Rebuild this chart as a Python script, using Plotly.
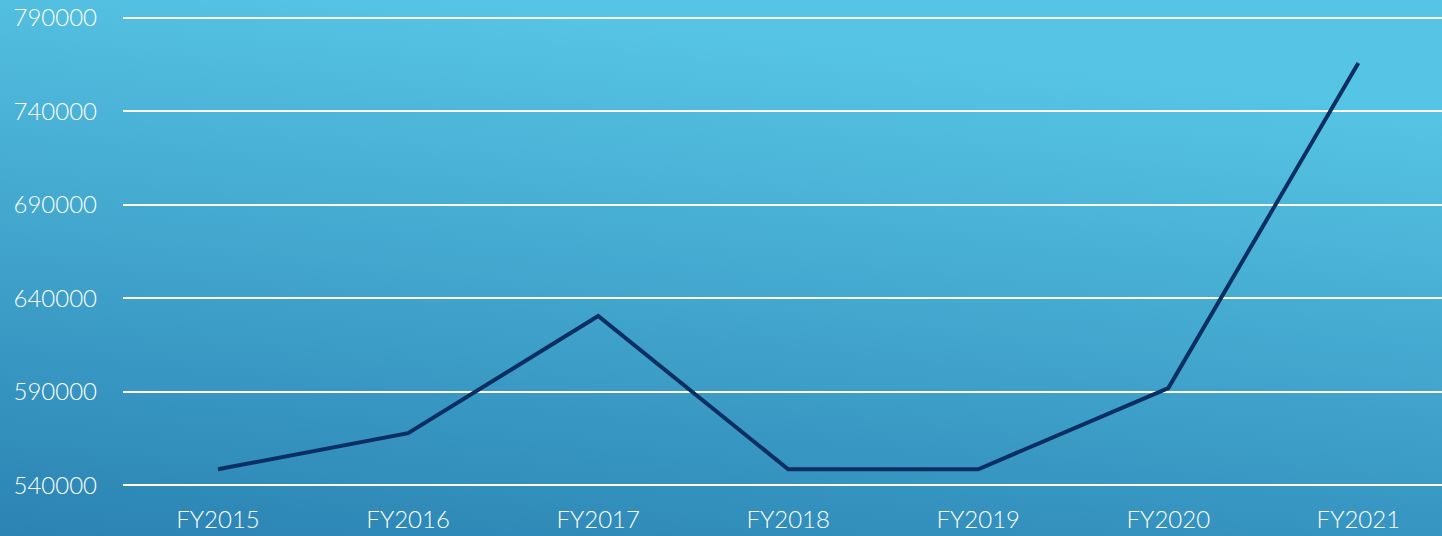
import base64
import plotly.graph_objects as go

categories = ["FY2015", "FY2016", "FY2017", "FY2018", "FY2019", "FY2020", "FY2021"]
values = [548500, 567800, 630500, 548500, 548500, 591900, 765900]
tick_vals = [540000, 590000, 640000, 690000, 740000, 790000]

W, H = 1442, 536
L, R, T, B = 123, 0, 16, 49
pw, ph = W - L - R, H - T - B

svg = f'''<svg xmlns="http://www.w3.org/2000/svg" width="{W}" height="{H}" viewBox="0 0 {W} {H}" preserveAspectRatio="none">
<defs><linearGradient id="g" x1="0" y1="1" x2="0.3" y2="0">
<stop offset="0" stop-color="#2B83B3"/><stop offset="1" stop-color="#56C4E4"/>
</linearGradient></defs><rect width="{W}" height="{H}" fill="url(#g)"/></svg>'''
uri = "data:image/svg+xml;base64," + base64.b64encode(svg.encode()).decode()

fig = go.Figure()
fig.add_trace(go.Scatter(
    x=list(range(len(categories))), y=values, mode="lines",
    line=dict(color="#0B2F62", width=4), hoverinfo="skip"))

fig.update_layout(
    width=W, height=H,
    margin=dict(l=L, r=R, t=T, b=B),
    paper_bgcolor="#3FA2CC", plot_bgcolor="rgba(0,0,0,0)",
    showlegend=False,
    font=dict(family="Lato, 'Open Sans', sans-serif", color="white", size=24, weight=300),
    images=[dict(source=uri, xref="paper", yref="paper",
                 x=-L / pw, y=1 + T / ph, sizex=W / pw, sizey=H / ph,
                 xanchor="left", yanchor="top", sizing="stretch", layer="below")],
    xaxis=dict(range=[-0.5, 6.44], tickvals=list(range(len(categories))),
               ticktext=categories, showgrid=False, zeroline=False,
               showline=False, ticklabelstandoff=16),
    yaxis=dict(range=[539000, 791000], tickvals=tick_vals,
               ticktext=[str(v) for v in tick_vals],
               showgrid=True, gridcolor="white", gridwidth=1.5,
               zeroline=False, showline=False, ticklabelstandoff=25),
)
fig.write_html("out.html", config={"displayModeBar": False},
               post_script="document.body.style.margin='0';document.body.style.overflow='hidden';")
